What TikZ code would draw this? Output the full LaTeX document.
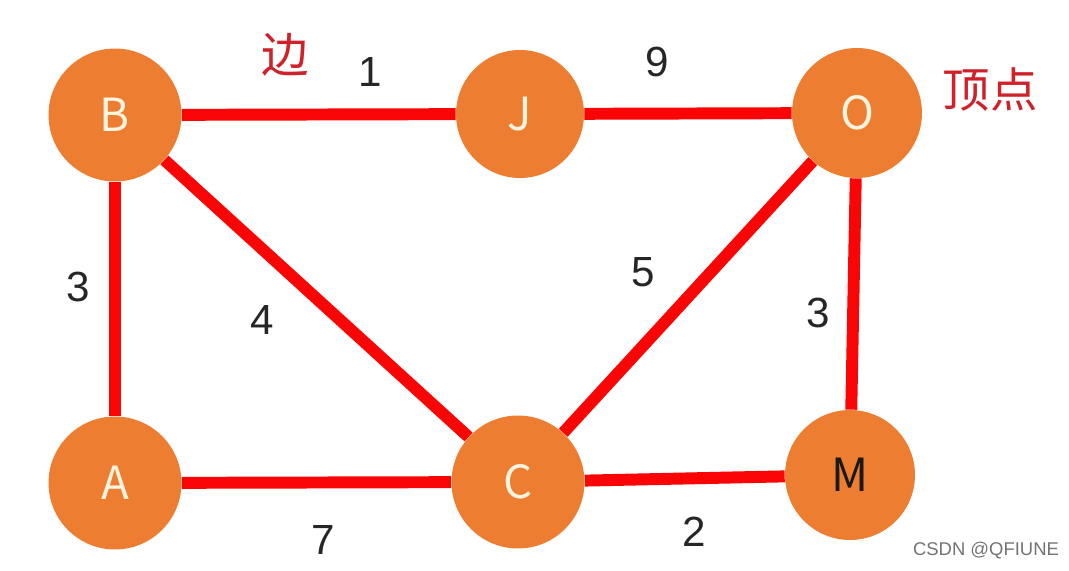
\documentclass[tikz,border=0pt]{standalone}
\usepackage{fontspec}
\setmainfont{Liberation Sans}
\newfontfamily\cjk{Noto Sans CJK SC}
\usetikzlibrary{positioning}
\definecolor{vxorange}{RGB}{237,125,49}
\definecolor{edgered}{RGB}{250,5,5}
\definecolor{notered}{RGB}{208,32,42}
\definecolor{lettercream}{RGB}{255,244,222}

\tikzset{
  vertex/.style={circle,fill=vxorange,minimum size=2.66cm,inner sep=0pt,
    text=lettercream,font=\cjk\fontsize{26}{30}\selectfont},
  edgeline/.style={draw=edgered,line width=6.8pt},
  weight/.style={font=\fontsize{24}{28}\selectfont,text=black!85},
  note/.style={font=\cjk\fontsize{27}{32}\selectfont,text=notered}
}

\begin{document}
\begin{tikzpicture}[x=.02cm,y=-.02cm]
  \useasboundingbox (0,0) rectangle (1069,571);
  % vertices
  \node[vertex] (B) at (115,115) {B};
  \node[vertex,minimum size=2.56cm] (J) at (520,114) {J};
  \node[vertex,minimum size=2.6cm] (O) at (857,113) {O};
  \node[vertex] (A) at (115,483) {A};
  \node[vertex] (C) at (518,482) {C};
  \node[vertex,minimum size=2.6cm,text=black!90] (M) at (850,475) {M};
  % edges
  \draw[edgeline] (B) -- (J);
  \draw[edgeline] (J) -- (O);
  \draw[edgeline] (B) -- (A);
  \draw[edgeline] (B) -- (C);
  \draw[edgeline] (C) -- (O);
  \draw[edgeline] (O) -- (M);
  \draw[edgeline] (A) -- (C);
  \draw[edgeline] (C) -- (M);
  % weights
  \node[weight] (wBJ) at (370,72) {1};
  \node[weight] (wJO) at (657,62) {9};
  \node[weight] (wBA) at (78,287) {3};
  \node[weight] (wBC) at (262,320) {4};
  \node[weight] (wCO) at (643,272) {5};
  \node[weight] (wOM) at (818,313) {3};
  \node[weight] (wAC) at (323,540) {7};
  \node[weight] (wCM) at (694,532) {2};
  % notes
  \node[note] (edgenote) at (285,55) {边};
  \node[note] (vertexnote) at (990,90) {顶点};
  \node[font=\fontsize{10.5}{12}\selectfont,text=black!55] (mark) at (986,551) {CSDN @QFIUNE};
\end{tikzpicture}
\end{document}
